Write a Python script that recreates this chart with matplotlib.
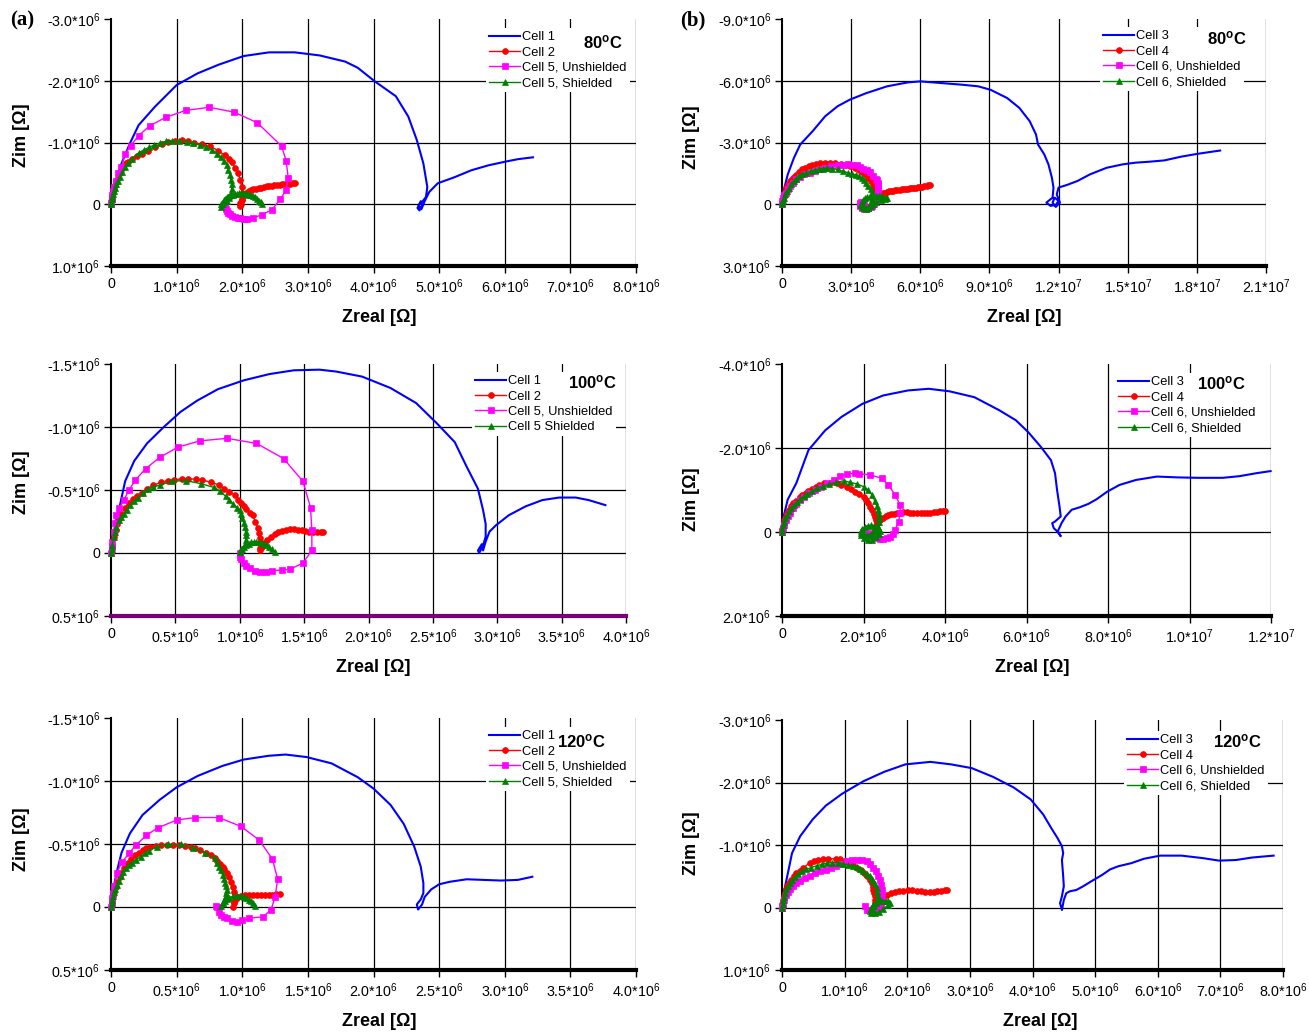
import matplotlib
matplotlib.use("Agg")
import matplotlib.pyplot as plt
from matplotlib.lines import Line2D

plt.rcParams['font.family'] = ['Liberation Sans', 'DejaVu Sans']
plt.rcParams['mathtext.fontset'] = 'custom'
plt.rcParams['mathtext.rm'] = 'Liberation Sans'
plt.rcParams['mathtext.it'] = 'Liberation Sans:italic'
plt.rcParams['mathtext.bf'] = 'Liberation Sans:bold'

# ---------------- DATA: (Zreal, Zim) points, units of 1e6 Ohm ----------------
# Panel (a) 80 C
A80_C1 = [(0, 0), (0.064, -0.28), (0.16, -0.66), (0.29, -0.99), (0.42, -1.28), (0.67, -1.58), (1.0, -1.93), (1.32, -2.12), (1.64, -2.26), (2.02, -2.40), (2.41, -2.46), (2.80, -2.46), (3.18, -2.41), (3.57, -2.31), (3.76, -2.21), (4.02, -1.99), (4.34, -1.75), (4.53, -1.42), (4.66, -1.04), (4.76, -0.66), (4.82, -0.28), (4.80, -0.12), (4.75, -0.05), (4.70, 0.0), (4.67, 0.06), (4.70, 0.10), (4.74, 0.03), (4.72, -0.05), (4.69, 0.02), (4.73, 0.08), (4.78, -0.05), (4.85, -0.20), (4.98, -0.34), (5.24, -0.44), (5.49, -0.55), (5.75, -0.63), (6.01, -0.69), (6.20, -0.73), (6.43, -0.76)]
A80_C2 = [(0, 0), (0.005, -0.05), (0.01, -0.09), (0.02, -0.14), (0.03, -0.19), (0.045, -0.25), (0.06, -0.31), (0.08, -0.37), (0.10, -0.43), (0.13, -0.50), (0.16, -0.56), (0.19, -0.61), (0.23, -0.66), (0.26, -0.69), (0.32, -0.73), (0.39, -0.78), (0.47, -0.82), (0.57, -0.87), (0.67, -0.92), (0.77, -0.97), (0.87, -1.01), (0.97, -1.03), (1.08, -1.04), (1.18, -1.02), (1.27, -0.99), (1.39, -0.97), (1.51, -0.94), (1.63, -0.87), (1.74, -0.79), (1.80, -0.74), (1.84, -0.69), (1.89, -0.58), (1.94, -0.50), (1.97, -0.39), (1.99, -0.28), (1.99, -0.17), (1.99, -0.065), (1.98, 0.0), (1.97, 0.02), (1.96, 0.03), (1.97, -0.02), (1.99, -0.08), (2.01, -0.13), (2.03, -0.16), (2.05, -0.18), (2.08, -0.20), (2.11, -0.22), (2.14, -0.23), (2.17, -0.24), (2.21, -0.25), (2.25, -0.26), (2.29, -0.27), (2.33, -0.28), (2.37, -0.29), (2.41, -0.295), (2.45, -0.30), (2.49, -0.305), (2.53, -0.31), (2.57, -0.315), (2.61, -0.32), (2.65, -0.325), (2.69, -0.33), (2.73, -0.335), (2.77, -0.34), (2.80, -0.35)]
A80_C5U = [(0, 0), (0.01, -0.08), (0.02, -0.15), (0.03, -0.22), (0.045, -0.28), (0.07, -0.38), (0.11, -0.50), (0.16, -0.61), (0.21, -0.81), (0.30, -0.95), (0.42, -1.11), (0.59, -1.27), (0.84, -1.41), (1.14, -1.52), (1.50, -1.57), (1.88, -1.49), (2.23, -1.32), (2.60, -0.94), (2.67, -0.70), (2.70, -0.43), (2.67, -0.23), (2.58, -0.08), (2.45, 0.09), (2.30, 0.17), (2.17, 0.22), (2.07, 0.235), (2.02, 0.235), (1.97, 0.23), (1.93, 0.225), (1.89, 0.21), (1.85, 0.19), (1.82, 0.165), (1.79, 0.14), (1.77, 0.11), (1.75, 0.08), (1.74, 0.05), (1.73, 0.02), (1.73, 0.0)]
A80_C5S = [(0, 0), (0.005, -0.04), (0.01, -0.08), (0.02, -0.12), (0.03, -0.17), (0.045, -0.22), (0.06, -0.27), (0.08, -0.32), (0.10, -0.38), (0.13, -0.44), (0.17, -0.53), (0.21, -0.60), (0.26, -0.67), (0.32, -0.74), (0.42, -0.83), (0.50, -0.88), (0.58, -0.92), (0.66, -0.96), (0.74, -0.99), (0.84, -1.02), (0.93, -1.03), (1.04, -1.03), (1.16, -1.01), (1.25, -0.99), (1.35, -0.96), (1.45, -0.92), (1.54, -0.88), (1.62, -0.81), (1.67, -0.77), (1.72, -0.70), (1.77, -0.64), (1.79, -0.55), (1.81, -0.48), (1.83, -0.40), (1.84, -0.32), (1.84, -0.25), (1.83, -0.17), (1.80, -0.10), (1.76, -0.05), (1.70, 0.0), (1.67, 0.04), (1.68, 0.0), (1.70, -0.04), (1.72, -0.07), (1.74, -0.09), (1.76, -0.11), (1.78, -0.12), (1.80, -0.13), (1.83, -0.145), (1.86, -0.155), (1.89, -0.165), (1.92, -0.17), (1.95, -0.175), (1.98, -0.175), (2.01, -0.175), (2.04, -0.17), (2.07, -0.165), (2.10, -0.155), (2.13, -0.145), (2.16, -0.13), (2.19, -0.11), (2.22, -0.09), (2.25, -0.06), (2.28, -0.03), (2.30, -0.01)]

# Panel (b) 80 C
B80_C3 = [(0, 0), (0.07, -0.65), (0.25, -1.45), (0.52, -2.26), (0.79, -2.90), (1.33, -3.55), (1.87, -4.27), (2.41, -4.76), (2.94, -5.08), (3.66, -5.40), (4.56, -5.73), (5.46, -5.92), (6.00, -5.97), (6.89, -5.89), (7.79, -5.81), (8.51, -5.73), (9.05, -5.56), (9.77, -5.16), (10.3, -4.68), (10.75, -4.03), (11.02, -3.39), (11.11, -2.90), (11.38, -2.42), (11.56, -1.94), (11.71, -1.29), (11.78, -0.81), (11.74, -0.32), (11.56, -0.16), (11.47, -0.08), (11.65, 0.08), (11.88, 0.03), (12.0, -0.16), (11.83, -0.32), (11.74, -0.08), (11.88, 0.13), (12.06, -0.08), (11.92, -0.48), (12.0, -0.81), (12.37, -0.94), (12.82, -1.13), (13.36, -1.45), (14.08, -1.77), (14.79, -1.94), (15.33, -2.02), (15.87, -2.06), (16.59, -2.13), (17.31, -2.31), (18.03, -2.45), (19.01, -2.61)]
B80_C4 = [(0, 0), (0.02, -0.12), (0.04, -0.24), (0.07, -0.40), (0.10, -0.55), (0.16, -0.77), (0.22, -0.90), (0.29, -1.0), (0.36, -1.11), (0.43, -1.21), (0.52, -1.32), (0.61, -1.42), (0.74, -1.56), (0.88, -1.69), (1.0, -1.77), (1.15, -1.85), (1.30, -1.90), (1.47, -1.94), (1.67, -1.99), (1.87, -2.02), (2.10, -2.02), (2.32, -2.0), (2.55, -1.96), (2.76, -1.90), (2.96, -1.84), (3.16, -1.77), (3.33, -1.68), (3.48, -1.58), (3.62, -1.45), (3.75, -1.29), (3.85, -1.12), (3.93, -0.94), (3.98, -0.80), (4.02, -0.65), (4.05, -0.52), (4.06, -0.40), (4.05, -0.28), (4.02, -0.16), (3.99, 0.0), (4.02, -0.12), (4.06, -0.24), (4.12, -0.35), (4.20, -0.45), (4.28, -0.50), (4.37, -0.54), (4.47, -0.57), (4.56, -0.60), (4.65, -0.62), (4.74, -0.64), (4.83, -0.66), (4.92, -0.67), (5.01, -0.69), (5.10, -0.70), (5.19, -0.72), (5.28, -0.73), (5.37, -0.75), (5.46, -0.76), (5.55, -0.77), (5.64, -0.78), (5.73, -0.80), (5.82, -0.81), (5.91, -0.82), (6.00, -0.84), (6.09, -0.86), (6.18, -0.88), (6.27, -0.90), (6.35, -0.92), (6.42, -0.95)]
B80_C6U = [(0, 0), (0.02, -0.15), (0.05, -0.3), (0.10, -0.45), (0.16, -0.56), (0.24, -0.72), (0.34, -0.89), (0.47, -1.05), (0.61, -1.21), (0.78, -1.34), (0.97, -1.45), (1.2, -1.54), (1.42, -1.61), (1.65, -1.69), (1.87, -1.77), (2.14, -1.84), (2.41, -1.90), (2.63, -1.93), (2.85, -1.94), (3.05, -1.92), (3.24, -1.90), (3.39, -1.82), (3.53, -1.73), (3.68, -1.65), (3.82, -1.57), (3.96, -1.36), (4.06, -1.25), (4.11, -1.17), (4.15, -1.05), (4.18, -0.92), (4.17, -0.75), (4.15, -0.60), (4.12, -0.45), (4.08, -0.30), (4.05, -0.15), (4.0, 0.0), (3.92, 0.08), (3.85, 0.15), (3.75, 0.20), (3.65, 0.24), (3.55, 0.22), (3.45, 0.18), (3.40, 0.10), (3.37, 0.02), (3.40, -0.05), (3.42, -0.1), (3.50, -0.12), (3.55, -0.12)]
B80_C6S = [(0, 0), (0.02, -0.12), (0.04, -0.22), (0.07, -0.32), (0.14, -0.48), (0.22, -0.65), (0.30, -0.80), (0.39, -0.97), (0.50, -1.11), (0.61, -1.24), (0.74, -1.35), (0.88, -1.45), (1.06, -1.53), (1.24, -1.61), (1.42, -1.65), (1.60, -1.69), (1.78, -1.73), (1.96, -1.77), (2.18, -1.73), (2.41, -1.69), (2.63, -1.61), (2.86, -1.53), (3.04, -1.48), (3.21, -1.42), (3.35, -1.36), (3.48, -1.29), (3.57, -1.18), (3.66, -1.05), (3.75, -0.90), (3.84, -0.73), (3.89, -0.57), (3.93, -0.40), (3.92, -0.25), (3.88, -0.08), (3.82, 0.05), (3.75, 0.16), (3.65, 0.20), (3.55, 0.18), (3.48, 0.12), (3.42, 0.05), (3.42, -0.03), (3.45, -0.12), (3.52, -0.20), (3.60, -0.28), (3.70, -0.33), (3.80, -0.38), (3.90, -0.40), (4.0, -0.42), (4.10, -0.42), (4.20, -0.40), (4.30, -0.38), (4.40, -0.35), (4.50, -0.30), (4.55, -0.28), (4.45, -0.25), (4.3, -0.2), (4.1, -0.1), (3.95, 0.0), (3.85, 0.1), (3.75, 0.2), (3.65, 0.25)]

# Panel (a) 100 C
A100_C1 = [(0, 0), (0.016, -0.126), (0.05, -0.28), (0.08, -0.43), (0.11, -0.57), (0.18, -0.73), (0.28, -0.87), (0.41, -1.0), (0.54, -1.12), (0.67, -1.21), (0.83, -1.30), (1.03, -1.37), (1.23, -1.42), (1.42, -1.45), (1.62, -1.455), (1.75, -1.44), (1.95, -1.40), (2.17, -1.31), (2.37, -1.19), (2.53, -1.03), (2.67, -0.88), (2.76, -0.69), (2.85, -0.51), (2.89, -0.34), (2.91, -0.23), (2.91, -0.13), (2.89, -0.06), (2.86, 0.0), (2.85, -0.02), (2.88, -0.07), (2.89, -0.02), (2.91, -0.09), (2.94, -0.17), (2.99, -0.22), (3.09, -0.30), (3.22, -0.37), (3.35, -0.42), (3.48, -0.44), (3.61, -0.44), (3.71, -0.42), (3.84, -0.38)]
A100_C2 = [(0, 0), (0.005, -0.03), (0.01, -0.06), (0.02, -0.13), (0.035, -0.18), (0.05, -0.23), (0.065, -0.27), (0.08, -0.31), (0.11, -0.36), (0.14, -0.40), (0.17, -0.43), (0.20, -0.45), (0.24, -0.48), (0.28, -0.51), (0.33, -0.54), (0.39, -0.56), (0.44, -0.575), (0.49, -0.58), (0.55, -0.59), (0.60, -0.59), (0.66, -0.585), (0.71, -0.58), (0.78, -0.56), (0.84, -0.54), (0.88, -0.51), (0.92, -0.485), (0.96, -0.46), (0.99, -0.42), (1.01, -0.40), (1.03, -0.37), (1.05, -0.35), (1.08, -0.32), (1.10, -0.30), (1.12, -0.25), (1.14, -0.20), (1.15, -0.16), (1.16, -0.12), (1.16, -0.08), (1.16, -0.04), (1.16, -0.02), (1.17, -0.05), (1.19, -0.08), (1.21, -0.10), (1.24, -0.13), (1.27, -0.15), (1.30, -0.165), (1.33, -0.175), (1.36, -0.185), (1.39, -0.19), (1.42, -0.19), (1.45, -0.185), (1.48, -0.18), (1.51, -0.175), (1.54, -0.17), (1.57, -0.165), (1.60, -0.165), (1.63, -0.167), (1.65, -0.17)]
A100_C5U = [(0, 0), (0.005, -0.05), (0.01, -0.09), (0.02, -0.17), (0.03, -0.24), (0.04, -0.30), (0.065, -0.36), (0.10, -0.42), (0.14, -0.50), (0.19, -0.58), (0.27, -0.67), (0.38, -0.76), (0.52, -0.84), (0.69, -0.89), (0.90, -0.91), (1.13, -0.87), (1.34, -0.75), (1.49, -0.57), (1.55, -0.36), (1.56, -0.18), (1.56, -0.02), (1.49, 0.08), (1.39, 0.13), (1.33, 0.135), (1.25, 0.14), (1.20, 0.15), (1.16, 0.15), (1.12, 0.14), (1.08, 0.12), (1.05, 0.10), (1.03, 0.08), (1.01, 0.05), (1.0, 0.03), (1.0, 0.0)]
A100_C5S = [(0, 0), (0.005, -0.03), (0.01, -0.06), (0.02, -0.13), (0.03, -0.17), (0.04, -0.21), (0.065, -0.26), (0.08, -0.285), (0.10, -0.31), (0.125, -0.345), (0.15, -0.38), (0.18, -0.41), (0.21, -0.44), (0.25, -0.48), (0.29, -0.51), (0.33, -0.525), (0.38, -0.54), (0.47, -0.57), (0.58, -0.575), (0.70, -0.55), (0.80, -0.52), (0.85, -0.49), (0.89, -0.45), (0.92, -0.42), (0.95, -0.39), (0.98, -0.36), (1.0, -0.34), (1.01, -0.31), (1.02, -0.28), (1.03, -0.24), (1.04, -0.21), (1.045, -0.17), (1.05, -0.14), (1.045, -0.10), (1.04, -0.07), (1.02, -0.03), (1.0, -0.01), (1.01, -0.03), (1.03, -0.05), (1.05, -0.06), (1.07, -0.075), (1.09, -0.085), (1.11, -0.09), (1.13, -0.09), (1.15, -0.085), (1.17, -0.08), (1.19, -0.07), (1.21, -0.06), (1.23, -0.045), (1.25, -0.03), (1.27, -0.01)]

# Panel (b) 100 C
B100_C3 = [(0, 0), (0.04, -0.37), (0.14, -0.77), (0.35, -1.16), (0.65, -1.95), (1.06, -2.42), (1.46, -2.74), (1.97, -3.05), (2.48, -3.25), (3.09, -3.37), (3.60, -3.41), (4.11, -3.35), (4.72, -3.21), (5.33, -2.90), (5.74, -2.66), (6.04, -2.38), (6.35, -2.03), (6.60, -1.71), (6.70, -1.40), (6.75, -1.0), (6.81, -0.61), (6.84, -0.37), (6.70, -0.25), (6.63, -0.21), (6.67, -0.09), (6.75, -0.02), (6.84, 0.10), (6.77, -0.02), (6.86, -0.21), (6.96, -0.37), (7.11, -0.53), (7.31, -0.59), (7.52, -0.67), (7.72, -0.78), (7.98, -0.96), (8.28, -1.12), (8.69, -1.24), (9.20, -1.32), (9.71, -1.30), (10.21, -1.29), (10.82, -1.29), (11.23, -1.33), (11.64, -1.40), (11.99, -1.45)]
B100_C4 = [(0, 0), (0.01, -0.07), (0.02, -0.13), (0.04, -0.21), (0.06, -0.29), (0.09, -0.37), (0.12, -0.45), (0.17, -0.53), (0.22, -0.61), (0.28, -0.68), (0.35, -0.75), (0.44, -0.83), (0.50, -0.88), (0.58, -0.93), (0.65, -0.98), (0.74, -1.03), (0.83, -1.08), (0.92, -1.11), (1.02, -1.16), (1.18, -1.16), (1.34, -1.16), (1.46, -1.13), (1.59, -1.08), (1.70, -1.02), (1.80, -0.96), (1.90, -0.90), (2.0, -0.84), (2.06, -0.76), (2.12, -0.68), (2.17, -0.60), (2.21, -0.52), (2.25, -0.44), (2.29, -0.36), (2.31, -0.28), (2.33, -0.21), (2.31, -0.13), (2.28, -0.05), (2.30, -0.12), (2.35, -0.22), (2.41, -0.29), (2.47, -0.33), (2.54, -0.37), (2.61, -0.40), (2.68, -0.42), (2.75, -0.44), (2.82, -0.45), (2.90, -0.46), (2.98, -0.465), (3.06, -0.465), (3.14, -0.46), (3.22, -0.46), (3.31, -0.46), (3.40, -0.455), (3.48, -0.455), (3.56, -0.46), (3.64, -0.46), (3.72, -0.47), (3.80, -0.48), (3.88, -0.49), (3.95, -0.50), (4.01, -0.50)]
B100_C6U = [(0, 0), (0.02, -0.09), (0.04, -0.17), (0.09, -0.29), (0.14, -0.37), (0.19, -0.45), (0.27, -0.56), (0.35, -0.67), (0.45, -0.76), (0.55, -0.84), (0.67, -0.92), (0.80, -1.0), (0.95, -1.08), (1.11, -1.16), (1.27, -1.24), (1.43, -1.33), (1.60, -1.38), (1.80, -1.40), (1.90, -1.39), (2.16, -1.36), (2.45, -1.28), (2.61, -1.12), (2.78, -0.88), (2.90, -0.64), (2.90, -0.45), (2.86, -0.25), (2.78, -0.05), (2.72, 0.05), (2.66, 0.11), (2.58, 0.15), (2.49, 0.17), (2.41, 0.165), (2.33, 0.15), (2.25, 0.11), (2.16, 0.07), (2.10, 0.02)]
B100_C6S = [(0, 0), (0.01, -0.08), (0.03, -0.17), (0.05, -0.25), (0.08, -0.33), (0.12, -0.41), (0.16, -0.49), (0.23, -0.57), (0.30, -0.65), (0.37, -0.72), (0.45, -0.78), (0.53, -0.85), (0.62, -0.91), (0.73, -0.98), (0.85, -1.04), (1.0, -1.09), (1.16, -1.14), (1.33, -1.18), (1.51, -1.22), (1.68, -1.18), (1.85, -1.14), (2.0, -1.08), (2.12, -1.0), (2.22, -0.87), (2.28, -0.73), (2.32, -0.63), (2.35, -0.53), (2.37, -0.43), (2.38, -0.33), (2.37, -0.23), (2.36, -0.13), (2.32, -0.06), (2.28, -0.02), (2.22, 0.03), (2.16, 0.06), (2.08, 0.08), (2.0, 0.06), (1.95, 0.02), (1.93, -0.03), (1.97, -0.08), (2.03, -0.12), (2.10, -0.15), (2.18, -0.16), (2.26, -0.15), (2.33, -0.12), (2.38, -0.08), (2.41, -0.03), (2.38, 0.04), (2.30, 0.12), (2.20, 0.18), (2.10, 0.20), (2.0, 0.15), (1.95, 0.08)]

# Panel (a) 120 C
A120_C1 = [(0, 0), (0.016, -0.137), (0.048, -0.295), (0.08, -0.43), (0.144, -0.584), (0.24, -0.73), (0.37, -0.85), (0.50, -0.95), (0.66, -1.04), (0.85, -1.12), (1.01, -1.17), (1.20, -1.20), (1.33, -1.21), (1.49, -1.19), (1.68, -1.14), (1.88, -1.03), (2.0, -0.94), (2.13, -0.81), (2.23, -0.66), (2.31, -0.48), (2.36, -0.32), (2.38, -0.19), (2.38, -0.11), (2.36, -0.06), (2.33, -0.02), (2.34, 0.02), (2.37, -0.02), (2.39, -0.08), (2.44, -0.14), (2.50, -0.18), (2.58, -0.20), (2.71, -0.22), (2.84, -0.215), (2.97, -0.21), (3.10, -0.215), (3.21, -0.24)]
A120_C2 = [(0, 0), (0.005, -0.03), (0.01, -0.06), (0.016, -0.09), (0.022, -0.12), (0.035, -0.16), (0.048, -0.20), (0.065, -0.235), (0.08, -0.27), (0.10, -0.31), (0.128, -0.35), (0.155, -0.38), (0.18, -0.41), (0.21, -0.43), (0.24, -0.45), (0.27, -0.465), (0.30, -0.48), (0.34, -0.485), (0.38, -0.49), (0.43, -0.49), (0.47, -0.49), (0.52, -0.49), (0.56, -0.485), (0.61, -0.475), (0.64, -0.465), (0.68, -0.45), (0.72, -0.43), (0.76, -0.41), (0.79, -0.39), (0.81, -0.365), (0.83, -0.34), (0.85, -0.32), (0.86, -0.30), (0.88, -0.27), (0.90, -0.24), (0.915, -0.20), (0.93, -0.16), (0.94, -0.12), (0.945, -0.08), (0.94, -0.04), (0.93, 0.0), (0.935, -0.03), (0.95, -0.06), (0.97, -0.08), (0.99, -0.09), (1.02, -0.092), (1.05, -0.093), (1.08, -0.094), (1.11, -0.095), (1.14, -0.095), (1.17, -0.095), (1.20, -0.096), (1.23, -0.098), (1.26, -0.10), (1.29, -0.105)]
A120_C5U = [(0, 0), (0.005, -0.04), (0.01, -0.07), (0.016, -0.11), (0.025, -0.17), (0.042, -0.27), (0.087, -0.36), (0.14, -0.43), (0.19, -0.49), (0.27, -0.57), (0.36, -0.63), (0.50, -0.69), (0.64, -0.71), (0.82, -0.71), (0.99, -0.64), (1.13, -0.53), (1.23, -0.38), (1.27, -0.22), (1.25, -0.08), (1.22, 0.02), (1.16, 0.077), (1.05, 0.09), (1.0, 0.105), (0.96, 0.117), (0.92, 0.11), (0.88, 0.09), (0.86, 0.08), (0.84, 0.063), (0.82, 0.04), (0.805, 0.0), (0.80, -0.01)]
A120_C5S = [(0, 0), (0.005, -0.03), (0.01, -0.058), (0.016, -0.087), (0.022, -0.116), (0.032, -0.146), (0.042, -0.176), (0.058, -0.21), (0.074, -0.247), (0.09, -0.28), (0.112, -0.308), (0.135, -0.33), (0.16, -0.35), (0.19, -0.375), (0.225, -0.40), (0.26, -0.425), (0.29, -0.447), (0.35, -0.48), (0.435, -0.497), (0.53, -0.497), (0.625, -0.47), (0.715, -0.43), (0.79, -0.387), (0.81, -0.35), (0.82, -0.32), (0.835, -0.29), (0.85, -0.255), (0.86, -0.22), (0.87, -0.19), (0.875, -0.165), (0.88, -0.137), (0.878, -0.11), (0.875, -0.084), (0.86, -0.055), (0.85, -0.03), (0.835, -0.005), (0.85, -0.03), (0.865, -0.05), (0.88, -0.065), (0.90, -0.075), (0.93, -0.085), (0.96, -0.09), (0.99, -0.088), (1.01, -0.082), (1.03, -0.07), (1.05, -0.058), (1.07, -0.045), (1.085, -0.03), (1.10, -0.01)]

# Panel (b) 120 C
B120_C3 = [(0, 0), (0.027, -0.23), (0.094, -0.55), (0.16, -0.87), (0.29, -1.14), (0.49, -1.41), (0.70, -1.63), (0.96, -1.82), (1.30, -2.02), (1.63, -2.17), (1.97, -2.29), (2.37, -2.33), (2.70, -2.29), (3.03, -2.23), (3.37, -2.09), (3.70, -1.92), (3.97, -1.73), (4.17, -1.49), (4.30, -1.27), (4.40, -1.11), (4.47, -0.98), (4.49, -0.87), (4.47, -0.76), (4.49, -0.50), (4.50, -0.34), (4.47, -0.18), (4.44, -0.07), (4.47, 0.04), (4.50, -0.12), (4.54, -0.23), (4.60, -0.26), (4.70, -0.28), (4.81, -0.34), (4.94, -0.42), (5.11, -0.52), (5.24, -0.61), (5.37, -0.66), (5.58, -0.71), (5.78, -0.78), (6.04, -0.83), (6.38, -0.83), (6.72, -0.79), (6.98, -0.75), (7.25, -0.76), (7.51, -0.80), (7.85, -0.83)]
B120_C4 = [(0, 0), (0.005, -0.06), (0.013, -0.12), (0.025, -0.18), (0.04, -0.23), (0.06, -0.29), (0.08, -0.34), (0.11, -0.39), (0.15, -0.44), (0.19, -0.50), (0.23, -0.55), (0.28, -0.59), (0.33, -0.63), (0.44, -0.71), (0.51, -0.74), (0.58, -0.76), (0.65, -0.77), (0.73, -0.78), (0.86, -0.78), (0.93, -0.77), (1.0, -0.75), (1.07, -0.72), (1.13, -0.68), (1.20, -0.64), (1.26, -0.60), (1.31, -0.55), (1.36, -0.50), (1.40, -0.44), (1.43, -0.39), (1.45, -0.33), (1.46, -0.28), (1.47, -0.23), (1.48, -0.18), (1.48, -0.12), (1.48, -0.07), (1.50, -0.02), (1.52, -0.07), (1.55, -0.12), (1.60, -0.17), (1.67, -0.20), (1.74, -0.23), (1.80, -0.25), (1.87, -0.26), (1.94, -0.27), (2.01, -0.275), (2.08, -0.275), (2.15, -0.27), (2.22, -0.265), (2.29, -0.255), (2.36, -0.25), (2.42, -0.25), (2.48, -0.26), (2.54, -0.27), (2.60, -0.28), (2.63, -0.28)]
B120_C6U = [(0, 0), (0.01, -0.06), (0.027, -0.12), (0.06, -0.20), (0.09, -0.25), (0.127, -0.29), (0.18, -0.34), (0.23, -0.39), (0.29, -0.43), (0.36, -0.47), (0.44, -0.51), (0.53, -0.55), (0.61, -0.58), (0.70, -0.60), (0.78, -0.63), (0.86, -0.66), (0.95, -0.70), (1.03, -0.74), (1.11, -0.755), (1.20, -0.76), (1.28, -0.76), (1.36, -0.75), (1.41, -0.69), (1.45, -0.64), (1.50, -0.58), (1.53, -0.51), (1.56, -0.44), (1.58, -0.36), (1.60, -0.28), (1.60, -0.20), (1.60, -0.12), (1.58, -0.06), (1.56, -0.02), (1.51, 0.02), (1.46, 0.04), (1.41, 0.045), (1.36, 0.04), (1.33, -0.02)]
B120_C6S = [(0, 0), (0.01, -0.06), (0.02, -0.12), (0.03, -0.17), (0.047, -0.23), (0.07, -0.29), (0.094, -0.34), (0.13, -0.39), (0.16, -0.44), (0.21, -0.49), (0.26, -0.54), (0.32, -0.58), (0.39, -0.61), (0.47, -0.64), (0.56, -0.67), (0.64, -0.69), (0.72, -0.71), (0.80, -0.72), (0.89, -0.72), (0.97, -0.70), (1.06, -0.68), (1.13, -0.665), (1.20, -0.65), (1.25, -0.62), (1.30, -0.58), (1.35, -0.54), (1.40, -0.50), (1.43, -0.46), (1.46, -0.42), (1.49, -0.37), (1.51, -0.31), (1.52, -0.25), (1.53, -0.18), (1.52, -0.12), (1.50, -0.07), (1.47, -0.02), (1.44, 0.04), (1.42, 0.09), (1.40, 0.05), (1.42, 0.0), (1.46, -0.04), (1.50, -0.07), (1.55, -0.10), (1.60, -0.11), (1.66, -0.11), (1.70, -0.10), (1.73, -0.08), (1.70, -0.04), (1.62, 0.02), (1.55, 0.07), (1.48, 0.09)]

# Tick values (units of 1e6)
A80_XTICKS = [0, 1, 2, 3, 4, 5, 6, 7, 8]
A80_YTICKS = [-3, -2, -1, 0, 1]
B80_XTICKS = [0, 3, 6, 9, 12, 15, 18, 21]
B80_YTICKS = [-9, -6, -3, 0, 3]
A100_XTICKS = [0, 0.5, 1.0, 1.5, 2.0, 2.5, 3.0, 3.5, 4.0]
A100_YTICKS = [-1.5, -1.0, -0.5, 0, 0.5]
B100_XTICKS = [0, 2, 4, 6, 8, 10, 12]
B100_YTICKS = [-4, -2, 0, 2]
A120_XTICKS = [0, 0.5, 1.0, 1.5, 2.0, 2.5, 3.0, 3.5, 4.0]
A120_YTICKS = [-1.5, -1.0, -0.5, 0, 0.5]
B120_XTICKS = [0, 1, 2, 3, 4, 5, 6, 7, 8]
B120_YTICKS = [-3, -2, -1, 0, 1]

LABELS_A = ["Cell 1", "Cell 2", "Cell 5, Unshielded", "Cell 5, Shielded"]
LABELS_A100 = ["Cell 1", "Cell 2", "Cell 5, Unshielded", "Cell 5 Shielded"]
LABELS_B = ["Cell 3", "Cell 4", "Cell 6, Unshielded", "Cell 6, Shielded"]
TEMPS = ["80", "100", "120"]

# ---------------- STYLE ----------------
W, H = 1309, 1032
fig = plt.figure(figsize=(W / 100, H / 100), dpi=100)

BLUE, RED, MAG, GREEN = '#0000FF', '#FF0000', '#FF00FF', '#008000'
STY = [dict(color=BLUE, lw=1.5, marker=None),
       dict(color=RED, lw=1.0, marker='o', ms=4.2),
       dict(color=MAG, lw=1.0, marker='s', ms=4.3),
       dict(color=GREEN, lw=1.0, marker='^', ms=4.8)]


def fmt(v):
    if v == 0:
        return '0'
    if abs(v) >= 10:
        return '%.1f*10$^{7}$' % (v / 10.0)
    return '%.1f*10$^{6}$' % v


def panel(box, xticks, yticks, series, labels, temp, leg_px, temp_px, xlab_px, ylab_px, bottom_color='black'):
    l, t, r, b = box
    ax = fig.add_axes([l / W, 1 - b / H, (r - l) / W, (b - t) / H])
    ax.set_xlim(xticks[0], xticks[-1])
    ax.set_ylim(yticks[-1], yticks[0])
    for xv in xticks[1:]:
        ax.axvline(xv, color='black', lw=0.9, zorder=1)
    for yv in yticks[1:-1]:
        ax.axhline(yv, color='black', lw=0.9, zorder=1)
    handles = []
    for pts, st in zip(series, STY):
        xs = [p[0] for p in pts]
        ys = [p[1] for p in pts]
        kw = dict(color=st['color'], lw=st['lw'])
        if st['marker']:
            kw.update(marker=st['marker'], ms=st['ms'], mfc=st['color'], mec=st['color'], mew=0.5)
        ax.plot(xs, ys, zorder=3, clip_on=False, **kw)
        handles.append(Line2D([], [], **kw))
    ax.set_xticks(xticks)
    ax.set_yticks(yticks)
    ax.set_xticklabels([fmt(v) for v in xticks])
    ax.set_yticklabels([fmt(v) for v in yticks])
    ax.tick_params(direction='out', length=5, width=1, labelsize=10.3, pad=3, colors='black')
    ax.spines['top'].set_visible(False)
    ax.spines['right'].set_visible(False)
    ax.spines['left'].set_linewidth(1.5)
    ax.spines['bottom'].set_linewidth(3)
    ax.spines['bottom'].set_color(bottom_color)
    ax.spines['bottom'].set_zorder(4)
    lx, ly = leg_px
    leg = ax.legend(handles, labels, loc='upper left',
                    bbox_to_anchor=((lx - l) / (r - l), 1 - (ly - t) / (b - t)),
                    frameon=True, fancybox=False, edgecolor='none', facecolor='white', framealpha=1,
                    fontsize=9.3, handlelength=2.4, handletextpad=0.15, labelspacing=0.25,
                    borderpad=0.25, borderaxespad=0, numpoints=1)
    leg.set_zorder(5)
    tx, ty = temp_px
    ax.text((tx - l) / (r - l), 1 - (ty - t) / (b - t), temp + r'$^{\mathbf{o}}$C', transform=ax.transAxes,
            ha='center', va='center', fontsize=12, fontweight='bold', zorder=6)
    fig.text(xlab_px[0] / W, 1 - xlab_px[1] / H, 'Zreal [\u03a9]', ha='center', va='center',
             fontsize=13, fontweight='bold')
    fig.text(ylab_px[0] / W, 1 - ylab_px[1] / H, 'Zim [\u03a9]', ha='center', va='center',
             fontsize=13, fontweight='bold', rotation=90)
    return ax


panel((111, 19, 636, 266), A80_XTICKS, A80_YTICKS, [A80_C1, A80_C2, A80_C5U, A80_C5S],
      LABELS_A, TEMPS[0], (486, 28), (603, 42), (379, 318), (22, 135))
panel((782, 19, 1266, 266), B80_XTICKS, B80_YTICKS, [B80_C3, B80_C4, B80_C6U, B80_C6S],
      LABELS_B, TEMPS[0], (1100, 27), (1227, 38), (1024, 318), (691, 137))
panel((111, 364, 626, 616), A100_XTICKS, A100_YTICKS, [A100_C1, A100_C2, A100_C5U, A100_C5S],
      LABELS_A100, TEMPS[1], (472, 372), (592, 382), (373, 667), (22, 482), bottom_color='#7a007a')
panel((782, 364, 1271, 616), B100_XTICKS, B100_YTICKS, [B100_C3, B100_C4, B100_C6U, B100_C6S],
      LABELS_B, TEMPS[1], (1115, 373), (1221, 383), (1032, 667), (691, 499))
panel((111, 718, 636, 970), A120_XTICKS, A120_YTICKS, [A120_C1, A120_C2, A120_C5U, A120_C5S],
      LABELS_A, TEMPS[2], (486, 727), (581, 741), (379, 1022), (22, 839))
panel((782, 720, 1283, 970), B120_XTICKS, B120_YTICKS, [B120_C3, B120_C4, B120_C6U, B120_C6S],
      LABELS_B, TEMPS[2], (1124, 731), (1237, 741), (1040, 1022), (691, 843))

fig.text(22 / W, 1 - 20 / H, '(a)', ha='center', va='center', fontsize=15, fontweight='bold',
         family='Liberation Serif')
fig.text(693 / W, 1 - 20 / H, '(b)', ha='center', va='center', fontsize=15, fontweight='bold',
         family='Liberation Serif')

fig.savefig('out.png', dpi=100)
